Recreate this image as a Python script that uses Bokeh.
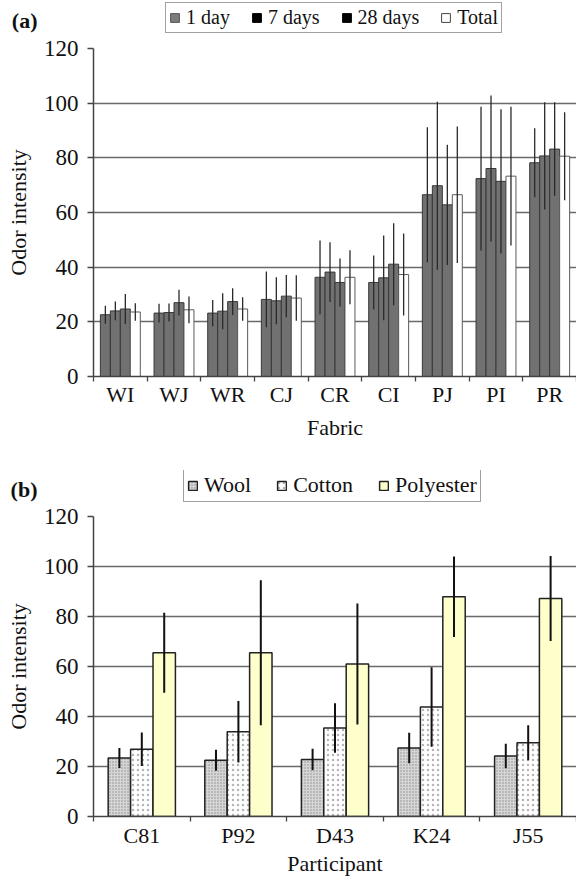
import numpy as np
from bokeh.plotting import figure
from bokeh.models import Range1d, FixedTicker, Legend, LegendItem
from bokeh.layouts import column
from bokeh.embed import file_html
from bokeh.resources import INLINE

FONT = "Liberation Serif"
W = 576
LEFT = 93

# ---------------- Panel (a) data ----------------
fabrics = ["WI", "WJ", "WR", "CJ", "CR", "CI", "PJ", "PI", "PR"]
day1 = [22.6, 23.2, 23.2, 28.2, 36.3, 34.4, 66.5, 72.4, 78.2]
day7 = [24.0, 23.4, 23.9, 27.7, 38.2, 36.1, 69.8, 76.1, 80.7]
day28 = [24.7, 27.0, 27.4, 29.4, 34.4, 41.1, 62.8, 71.4, 83.2]
total = [23.6, 24.4, 24.7, 28.7, 36.3, 37.3, 66.5, 73.3, 80.6]
err_day1 = [3.3, 3.4, 4.8, 10.2, 13.5, 9.9, 24.7, 26.3, 12.6]
err_day7 = [3.4, 3.3, 6.6, 8.6, 10.9, 15.5, 30.7, 26.7, 19.6]
err_day28 = [5.5, 4.7, 4.9, 7.7, 8.8, 15.0, 22.0, 26.4, 17.1]
err_total = [3.2, 4.9, 4.3, 8.3, 9.9, 15.0, 25.0, 25.4, 16.1]
series_a = ["1 day", "7 days", "28 days", "Total"]

# ---------------- Panel (b) data ----------------
participants = ["C81", "P92", "D43", "K24", "J55"]
wool = [23.4, 22.5, 22.8, 27.4, 24.2]
cotton = [26.9, 33.9, 35.4, 43.8, 29.5]
polyester = [65.5, 65.5, 61.0, 87.9, 87.2]
err_wool = [4.0, 4.2, 4.3, 6.1, 4.9]
err_cotton = [6.7, 12.3, 9.9, 15.9, 7.0]
err_polyester = [16.0, 29.0, 24.2, 16.1, 17.0]
series_b = ["Wool", "Cotton", "Polyester"]
yticks = [0, 20, 40, 60, 80, 100, 120]

# styles
GRAY = "#717171"
GRAY_LINE = "#383838"
fills_a = [GRAY, GRAY, GRAY, "white"]
lines_a = [GRAY_LINE, GRAY_LINE, GRAY_LINE, "#5a5a5a"]
legend_fills_a = ["#7c7c7c", "black", "black", "white"]
legend_lines_a = ["#555555", "black", "black", "#444444"]
style_b = [
    dict(fill_color="#d6d6d6", line_color="#222", line_width=1.5,
         hatch_pattern="dot", hatch_scale=3, hatch_color="#8c8c8c"),
    dict(fill_color="white", line_color="#222", line_width=1.5,
         hatch_pattern="dot", hatch_scale=5, hatch_color="#b5b5b5"),
    dict(fill_color="#FFFFCC", line_color="#222", line_width=1.5),
]


def style(p, n, names, xlab, xstand, xlabstand):
    p.outline_line_color = None
    p.xgrid.visible = False
    p.ygrid.grid_line_color = "#6a6a6a"
    p.ygrid.grid_line_width = 1.3
    centers = list(range(1, n + 1))
    bounds = [i + 0.5 for i in range(0, n + 1)]
    xa = p.xaxis[0]
    xa.ticker = FixedTicker(ticks=centers, minor_ticks=bounds)
    xa.major_label_overrides = {c: s for c, s in zip(centers, names)}
    xa.major_tick_in = 0
    xa.major_tick_out = 0
    xa.minor_tick_in = 0
    xa.minor_tick_out = 5
    xa.minor_tick_line_color = "#444"
    xa.minor_tick_line_width = 1.3
    xa.axis_line_color = "#444"
    xa.axis_line_width = 1.5
    xa.major_label_text_font = FONT
    xa.major_label_text_font_size = "22px"
    xa.major_label_text_color = "#111"
    xa.major_label_standoff = xstand
    xa.axis_label = xlab
    xa.axis_label_text_font = FONT
    xa.axis_label_text_font_size = "22px"
    xa.axis_label_text_font_style = "normal"
    xa.axis_label_text_color = "#111"
    xa.axis_label_standoff = xlabstand
    ya = p.yaxis[0]
    ya.ticker = FixedTicker(ticks=yticks, minor_ticks=[])
    ya.major_tick_in = 0
    ya.major_tick_out = 6
    ya.major_tick_line_color = "#444"
    ya.major_tick_line_width = 1.3
    ya.axis_line_color = "#444"
    ya.axis_line_width = 1.5
    ya.major_label_text_font = FONT
    ya.major_label_text_font_size = "23px"
    ya.major_label_text_color = "#111"
    ya.major_label_standoff = 9
    ya.axis_label = "Odor intensity"
    ya.axis_label_text_font = FONT
    ya.axis_label_text_font_size = "22px"
    ya.axis_label_text_font_style = "normal"
    ya.axis_label_text_color = "#111"
    ya.axis_label_standoff = 10


def header(h, tag, tag_y, tag_standoff):
    hp = figure(width=W, height=h, x_range=Range1d(0, W - LEFT), y_range=Range1d(0, h),
                x_axis_location=None, y_axis_location="left",
                output_backend="svg", toolbar_location=None,
                min_border_left=LEFT, min_border_right=0,
                min_border_top=0, min_border_bottom=0)
    hp.grid.visible = False
    hp.outline_line_color = None
    ya = hp.yaxis[0]
    ya.ticker = FixedTicker(ticks=[tag_y], minor_ticks=[])
    ya.major_label_overrides = {tag_y: tag}
    ya.axis_line_color = None
    ya.major_tick_line_color = None
    ya.minor_tick_line_color = None
    ya.major_label_text_font = FONT
    ya.major_label_text_font_size = "22px"
    ya.major_label_text_font_style = "bold"
    ya.major_label_text_color = "#111"
    ya.major_label_standoff = tag_standoff
    return hp


def style_legend(leg, size, spacing, padding):
    leg.orientation = "horizontal"
    leg.label_text_font = FONT
    leg.label_text_font_size = size
    leg.label_text_color = "#111"
    leg.glyph_width = 11
    leg.glyph_height = 11
    leg.label_standoff = 6
    leg.spacing = spacing
    leg.padding = padding
    leg.margin = 0
    leg.label_height = 16
    leg.border_line_color = "#444"
    leg.border_line_width = 1
    leg.background_fill_color = "white"
    leg.background_fill_alpha = 1


NAN = float("nan")

# ================= Header (a) =================
HA = 33
ha = header(HA, "(a)", 12, 50)
# legend-only proxies (NaN height: nothing drawn in the plot area)
prox_a = [ha.vbar(x=[0], top=[NAN], width=1, fill_color=legend_fills_a[k],
                  line_color=legend_lines_a[k]) for k in range(4)]
leg_a = Legend(items=[LegendItem(label=series_a[k], renderers=[prox_a[k]]) for k in range(4)],
               location=(165 - LEFT, 0))
style_legend(leg_a, "20px", 21, 3)
ha.add_layout(leg_a)

# ================= Figure (a) =================
pa = figure(width=W, height=437, x_range=Range1d(0.5, 9.5), y_range=Range1d(0, 120),
            output_backend="svg", toolbar_location=None,
            min_border_left=LEFT, min_border_right=0, min_border_top=15, min_border_bottom=94)
style(pa, len(fabrics), fabrics, "Fabric", 0, 5)

xa_c = np.arange(1, len(fabrics) + 1)
wa = 0.186
vals_a = [day1, day7, day28, total]
errs_a = [err_day1, err_day7, err_day28, err_total]
for k in range(4):
    xs = xa_c + (k - 1.5) * wa
    pa.vbar(x=xs, top=vals_a[k], bottom=0, width=wa, fill_color=fills_a[k],
            line_color=lines_a[k], line_width=1)
for k in range(4):
    xs = xa_c + (k - 1.5) * wa
    v = np.array(vals_a[k]); e = np.array(errs_a[k])
    pa.segment(x0=xs, y0=v - e, x1=xs, y1=v + e, line_color="#2a2a2a", line_width=1.3)

# ================= Header (b) =================
HB = 32
hb = header(HB, "(b)", 13, 50)
prox_b = [hb.vbar(x=[0], top=[NAN], width=1, **style_b[k]) for k in range(3)]
leg_b = Legend(items=[LegendItem(label=series_b[k], renderers=[prox_b[k]]) for k in range(3)],
               location=(183 - LEFT, 0))
style_legend(leg_b, "22px", 25, 3)
hb.add_layout(leg_b)

# ================= Figure (b) =================
pb = figure(width=W, height=376, x_range=Range1d(0.5, 5.5), y_range=Range1d(0, 120),
            output_backend="svg", toolbar_location=None,
            min_border_left=LEFT, min_border_right=0, min_border_top=14, min_border_bottom=62)
style(pb, len(participants), participants, "Participant", 1, 0)

xb_c = np.arange(1, len(participants) + 1)
wb = 0.232
vals_b = [wool, cotton, polyester]
errs_b = [err_wool, err_cotton, err_polyester]
for k in range(3):
    xs = xb_c + (k - 1) * wb
    pb.vbar(x=xs, top=vals_b[k], bottom=0, width=wb, **style_b[k])
for k in range(3):
    xs = xb_c + (k - 1) * wb
    v = np.array(vals_b[k]); e = np.array(errs_b[k])
    pb.segment(x0=xs, y0=v - e, x1=xs, y1=v + e, line_color="#111", line_width=2)

layout = column(ha, pa, hb, pb)
open("out.html", "w").write(file_html(layout, INLINE))
